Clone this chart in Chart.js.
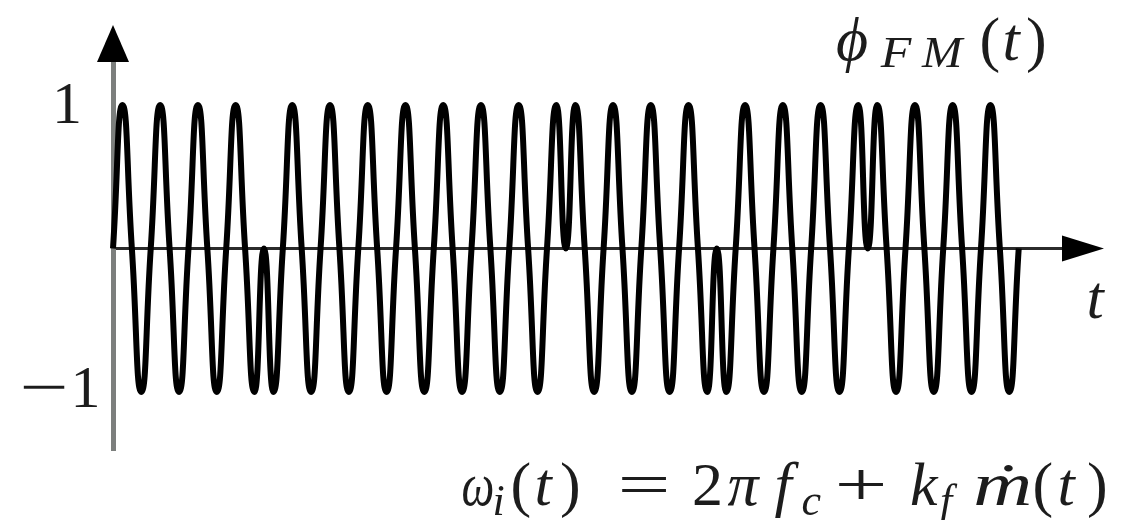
<!DOCTYPE html>
<html>
<head>
<meta charset="utf-8">
<script src="https://cdn.jsdelivr.net/npm/chart.js@4.4.1/dist/chart.umd.min.js"></script>
<style>
  html, body { margin: 0; padding: 0; background: #ffffff; }
  canvas { display: block; }
</style>
</head>
<body>
<canvas id="fm" width="1125" height="520"></canvas>
<script>
// Carrier readings taken every quarter of a carrier period (time axis in carrier periods).
const sampleStep = 0.25;

// Signal level at each reading: peaks (1), zero crossings (0), troughs (-1).
// The carrier flips phase at the zero crossings after periods 4, 12, 16 and 20.
const signalValues = [
  0, 1, 0, -1,   0, 1, 0, -1,   0, 1, 0, -1,   0, 1, 0, -1,
  0, -1, 0, 1,   0, -1, 0, 1,   0, -1, 0, 1,   0, -1, 0, 1,
  0, -1, 0, 1,   0, -1, 0, 1,   0, -1, 0, 1,   0, -1, 0, 1,
  0, 1, 0, -1,   0, 1, 0, -1,   0, 1, 0, -1,   0, 1, 0, -1,
  0, -1, 0, 1,   0, -1, 0, 1,   0, -1, 0, 1,   0, -1, 0, 1,
  0, 1, 0, -1,   0, 1, 0, -1,   0, 1, 0, -1,   0, 1, 0, -1,
  0
];

// Labelled levels on the vertical axis.
const yTickValues = [1, -1];

// Axis extents (time in carrier periods, amplitude).
const timeMax = 25.2;
const ampMin = -1.404;
const ampMax = 1.3;

const points = signalValues.map((v, i) => ({ x: i * sampleStep, y: v }));

const SERIF = '"Liberation Serif", "DejaVu Serif", serif';
const INK = '#1c1c1c';

// Draws a piece of text with its ink centred on cx; optional ink width stretches it horizontally.
function put(ctx, text, italic, size, cx, baseline, inkWidth) {
  ctx.font = (italic ? 'italic ' : '') + size + 'px ' + SERIF;
  const m = ctx.measureText(text);
  const l = m.actualBoundingBoxLeft;
  const r = m.actualBoundingBoxRight;
  const sx = inkWidth ? inkWidth / (l + r) : 1;
  ctx.save();
  ctx.translate(cx, baseline);
  ctx.scale(sx, 1);
  ctx.fillText(text, -(r - l) / 2, 0);
  ctx.restore();
}

const decorations = {
  id: 'decorations',
  afterDraw(chart) {
    const { ctx, chartArea, scales } = chart;
    const x0 = scales.x.getPixelForValue(0);
    const y0 = scales.y.getPixelForValue(0);

    ctx.save();
    ctx.fillStyle = '#000000';

    // arrow head of the vertical axis
    ctx.beginPath();
    ctx.moveTo(x0, 25);
    ctx.lineTo(x0 + 16, chartArea.top);
    ctx.lineTo(x0 - 16, chartArea.top);
    ctx.closePath();
    ctx.fill();

    // arrow head of the time axis
    ctx.beginPath();
    ctx.moveTo(1104, y0);
    ctx.lineTo(chartArea.right - 2, y0 - 13);
    ctx.lineTo(chartArea.right - 2, y0 + 13);
    ctx.closePath();
    ctx.fill();

    ctx.fillStyle = INK;
    ctx.textBaseline = 'alphabetic';
    ctx.textAlign = 'left';

    // amplitude labels
    const yTop = scales.y.getPixelForValue(yTickValues[0]);
    const yBot = scales.y.getPixelForValue(yTickValues[1]);
    put(ctx, '1', false, 60, 68, yTop + 18);
    put(ctx, '\u2212', false, 60, 43.5, yBot + 15, 42);
    put(ctx, '1', false, 60, 86.5, yBot + 15);

    // time axis label
    put(ctx, 't', true, 62, 1097, 318);

    // signal name
    put(ctx, '\u03D5', true, 62, 852, 60);
    put(ctx, 'F', true, 44, 896, 67, 33);
    put(ctx, 'M', true, 44, 943, 67, 44);
    put(ctx, '(', false, 62, 990, 60);
    put(ctx, 't', true, 62, 1013, 60);
    put(ctx, ')', false, 62, 1036, 60);

    // instantaneous frequency
    const b = 505, bs = 515;
    put(ctx, '\u03C9', true, 62, 478, b, 30);
    put(ctx, 'i', true, 44, 499, bs);
    put(ctx, '(', false, 62, 521, b);
    put(ctx, 't', true, 62, 545, b);
    put(ctx, ')', false, 62, 570, b);
    put(ctx, '=', false, 62, 644, b, 44);
    put(ctx, '2', false, 62, 707, b);
    put(ctx, '\u03C0', true, 62, 744, b);
    put(ctx, 'f', true, 62, 787, b);
    put(ctx, 'c', true, 44, 812, bs);
    put(ctx, '+', false, 62, 861, b, 44);
    put(ctx, 'k', true, 62, 925, b);
    put(ctx, 'f', true, 44, 949, bs);
    put(ctx, '\u1E41', true, 62, 1003, b, 54);
    put(ctx, '(', false, 62, 1043, b);
    put(ctx, 't', true, 62, 1068, b);
    put(ctx, ')', false, 62, 1097, b);

    ctx.restore();
  }
};

new Chart(document.getElementById('fm'), {
  type: 'line',
  data: {
    datasets: [{
      data: points,
      borderColor: '#000000',
      borderWidth: 6,
      borderJoinStyle: 'round',
      pointRadius: 0,
      fill: false,
      tension: 0.55,
      clip: false
    }]
  },
  options: {
    responsive: false,
    animation: false,
    events: [],
    layout: { padding: { left: 113, right: 61, top: 62, bottom: 70 } },
    plugins: { legend: { display: false }, tooltip: { enabled: false } },
    scales: {
      x: {
        type: 'linear',
        min: 0,
        max: timeMax,
        position: { y: 0 },
        grid: { display: false },
        ticks: { display: false },
        border: { display: true, color: '#2b2b2b', width: 3 }
      },
      y: {
        type: 'linear',
        min: ampMin,
        max: ampMax,
        position: { x: 0 },
        grid: { display: false },
        ticks: { display: false },
        border: { display: true, color: '#7c7f7d', width: 5 }
      }
    }
  },
  plugins: [decorations]
});
</script>
</body>
</html>
